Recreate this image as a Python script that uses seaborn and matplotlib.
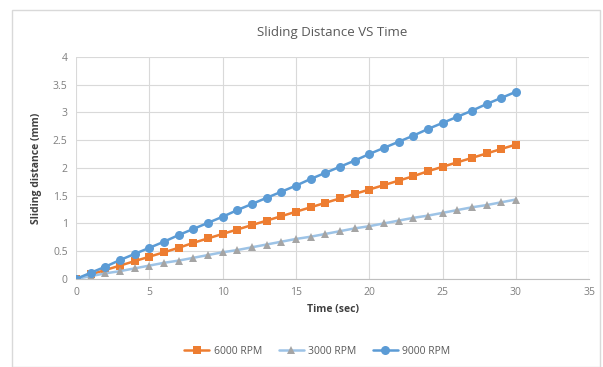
import numpy as np
import pandas as pd
import matplotlib
matplotlib.use("Agg")
import matplotlib.pyplot as plt
import seaborn as sns

# Time axis (sec)
time_sec = list(range(0, 31))

# Sliding distance (mm)
rpm_6000 = [0.00, 0.08, 0.16, 0.24, 0.32, 0.40, 0.48, 0.56, 0.65, 0.73, 0.81,
            0.89, 0.97, 1.05, 1.13, 1.21, 1.29, 1.37, 1.45, 1.53, 1.61,
            1.69, 1.77, 1.85, 1.94, 2.02, 2.10, 2.18, 2.26, 2.34, 2.42]
rpm_3000 = [0.00, 0.05, 0.10, 0.14, 0.19, 0.24, 0.29, 0.33, 0.38, 0.43, 0.48,
            0.52, 0.57, 0.62, 0.67, 0.72, 0.76, 0.81, 0.86, 0.91, 0.95,
            1.00, 1.05, 1.10, 1.14, 1.19, 1.24, 1.29, 1.33, 1.38, 1.43]
rpm_9000 = [0.00, 0.11, 0.22, 0.34, 0.45, 0.56, 0.67, 0.79, 0.90, 1.01, 1.12,
            1.24, 1.35, 1.46, 1.57, 1.68, 1.80, 1.91, 2.02, 2.13, 2.25,
            2.36, 2.47, 2.58, 2.70, 2.81, 2.92, 3.03, 3.15, 3.26, 3.37]

x_ticks = [0, 5, 10, 15, 20, 25, 30, 35]
y_ticks = [0, 0.5, 1, 1.5, 2, 2.5, 3, 3.5, 4]
y_labels = ["0", "0.5", "1", "1.5", "2", "2.5", "3", "3.5", "4"]

sns.set_style("white")
plt.rcParams['font.family'] = ['Open Sans', 'DejaVu Sans']

fig = plt.figure(figsize=(6.03, 3.67), dpi=100)
ax = fig.add_axes([0.126, 0.240, 0.851, 0.605])

# Chart border (Excel style)
fig.patches.append(plt.Rectangle((12 / 603, 0.0), 1 - 15 / 603, 1 - 10 / 367,
                                 transform=fig.transFigure, fill=False,
                                 edgecolor="#d9d9d9", linewidth=1.0))

sns.lineplot(x=time_sec, y=rpm_6000, ax=ax, color="#ED7D31", marker="s",
             markersize=5.5, markeredgewidth=0, linewidth=1.8, label="6000 RPM")
sns.lineplot(x=time_sec, y=rpm_3000, ax=ax, color="#9DC3E6", marker="^",
             markersize=5.5, markerfacecolor="#A5A5A5", markeredgewidth=0,
             linewidth=1.8, label="3000 RPM")
sns.lineplot(x=time_sec, y=rpm_9000, ax=ax, color="#5B9BD5", marker="o",
             markersize=6.5, markeredgewidth=0, linewidth=1.8, label="9000 RPM")

ax.set_xlim(0, 35)
ax.set_ylim(0, 4)
ax.set_xticks(x_ticks)
ax.set_yticks(y_ticks)
ax.set_yticklabels(y_labels)
ax.grid(True, color="#d9d9d9", linewidth=0.8)
ax.set_axisbelow(True)
for side in ["top", "right", "left"]:
    ax.spines[side].set_visible(False)
ax.spines["bottom"].set_color("#bfbfbf")
ax.tick_params(axis="both", length=0, labelsize=7.5, colors="#7f7f7f", pad=6)

ax.set_title("Sliding Distance VS Time", fontsize=9.5, color="#595959", pad=15)
ax.set_xlabel("Time (sec)", fontsize=7.5, fontweight="bold", color="#404040", labelpad=4)
ax.set_ylabel("Sliding distance (mm)", fontsize=7.5, fontweight="bold", color="#404040", labelpad=8)

ax.legend(loc="upper center", bbox_to_anchor=(0.47, -0.26), ncol=3, frameon=False,
          fontsize=7.5, labelcolor="#595959", handlelength=2.4, handletextpad=0.4,
          columnspacing=1.6)

fig.savefig("out.png", dpi=100)
